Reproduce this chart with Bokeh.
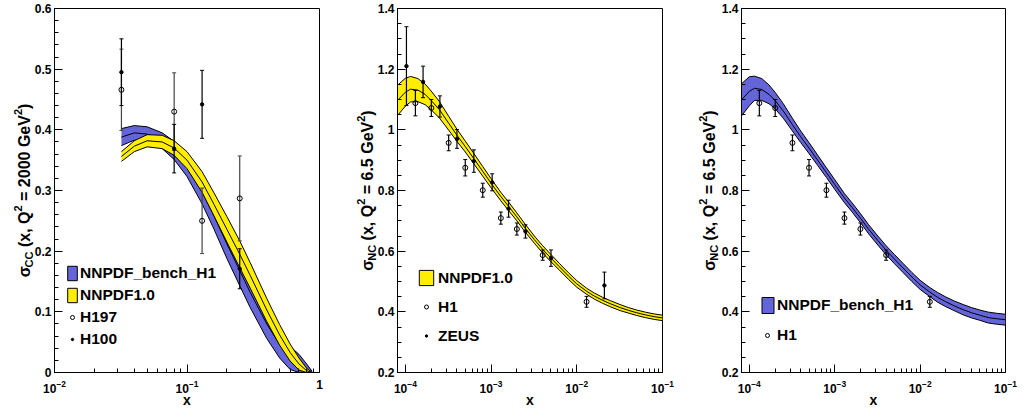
import math
from bokeh.plotting import figure
from bokeh.models import (ColumnDataSource, Range1d, FixedTicker, LogTickFormatter, Legend,
                          LegendItem, CustomJSTickFormatter)
from bokeh.layouts import row
from bokeh.embed import file_html
from bokeh.resources import INLINE
from bokeh.core.properties import value

FONT = "Liberation Sans"
BLUE = "#6a6ae0"
YELLOW = "#ffee00"

# ---------------- Panel 1: charged current, Q2 = 2000 GeV2 ----------------
cc_x = [0.032, 0.04, 0.05, 0.065, 0.08, 0.1, 0.13, 0.16, 0.2, 0.25, 0.3, 0.4, 0.5, 0.6, 0.7, 0.8, 0.88]
cc_bench_c = [0.388, 0.395, 0.393, 0.382, 0.366, 0.340, 0.298, 0.258, 0.212, 0.168, 0.132, 0.080, 0.046, 0.024, 0.014, 0.004, 0.000]
cc_bench_w = [0.014, 0.012, 0.012, 0.013, 0.015, 0.017, 0.020, 0.022, 0.024, 0.025, 0.025, 0.024, 0.022, 0.019, 0.016, 0.010, 0.002]
cc_nnpdf_c = [0.356, 0.373, 0.382, 0.380, 0.370, 0.350, 0.314, 0.277, 0.236, 0.195, 0.160, 0.103, 0.062, 0.033, 0.014, 0.003, 0.000]
cc_nnpdf_w = [0.008, 0.009, 0.010, 0.011, 0.012, 0.014, 0.017, 0.019, 0.021, 0.022, 0.021, 0.019, 0.017, 0.014, 0.010, 0.004, 0.000]

h197_x = [0.032, 0.08, 0.13, 0.25]
h197_y = [0.466, 0.430, 0.250, 0.287]
h197_e = [0.067, 0.064, 0.054, 0.070]
h100_x = [0.032, 0.08, 0.13, 0.25]
h100_y = [0.495, 0.369, 0.442, 0.171]
h100_e = [0.055, 0.040, 0.056, 0.033]

# ---------------- Panels 2 and 3: neutral current, Q2 = 6.5 GeV2 ----------------
nc_x = [8.1e-5, 1e-4, 1.15e-4, 1.4e-4, 1.7e-4, 2e-4, 2.5e-4, 3.2e-4, 4e-4, 5e-4, 6.3e-4, 8e-4,
        1e-3, 1.3e-3, 1.6e-3, 2e-3, 2.5e-3, 3.2e-3, 4e-3, 5e-3, 6.3e-3, 8e-3,
        1e-2, 1.3e-2, 1.6e-2, 2e-2, 2.5e-2, 3.2e-2, 4e-2, 5e-2, 6.3e-2, 8e-2, 0.1]
nc_nnpdf_c = [1.097, 1.124, 1.134, 1.131, 1.117, 1.097, 1.066, 1.022, 0.982, 0.945, 0.905, 0.863,
              0.824, 0.780, 0.748, 0.713, 0.676, 0.638, 0.606, 0.577, 0.548, 0.518,
              0.492, 0.468, 0.452, 0.438, 0.426, 0.414, 0.405, 0.397, 0.390, 0.384, 0.380]
nc_nnpdf_w = [0.050, 0.046, 0.042, 0.038, 0.034, 0.031, 0.027, 0.023, 0.020, 0.018, 0.017, 0.016,
              0.015, 0.014, 0.014, 0.013, 0.013, 0.012, 0.012, 0.012, 0.011, 0.011,
              0.011, 0.010, 0.010, 0.010, 0.010, 0.010, 0.009, 0.009, 0.009, 0.009, 0.009]
nc_bench_c = [1.099, 1.127, 1.137, 1.133, 1.117, 1.097, 1.062, 1.017, 0.977, 0.940, 0.900, 0.859,
              0.820, 0.775, 0.744, 0.709, 0.672, 0.635, 0.603, 0.574, 0.545, 0.515,
              0.489, 0.465, 0.448, 0.433, 0.420, 0.407, 0.397, 0.389, 0.381, 0.377, 0.374]
nc_bench_w = [0.053, 0.048, 0.040, 0.036, 0.031, 0.027, 0.024, 0.021, 0.019, 0.018, 0.017, 0.016,
              0.016, 0.015, 0.015, 0.015, 0.015, 0.015, 0.015, 0.015, 0.015, 0.015,
              0.015, 0.015, 0.016, 0.016, 0.016, 0.017, 0.017, 0.017, 0.018, 0.018, 0.018]

h1_x = [1.31e-4, 2.01e-4, 3.2e-4, 5.0e-4, 8.0e-4, 1.3e-3, 2.0e-3, 4.0e-3, 1.3e-2]
h1_y = [1.088, 1.072, 0.957, 0.875, 0.801, 0.709, 0.673, 0.587, 0.433]
h1_e = [0.042, 0.028, 0.026, 0.027, 0.023, 0.020, 0.020, 0.017, 0.018]
zeus_x = [1.03e-4, 1.61e-4, 2.53e-4, 4.0e-4, 6.3e-4, 1.03e-3, 1.6e-3, 2.52e-3, 5.0e-3, 2.1e-2]
zeus_y = [1.210, 1.158, 1.077, 0.970, 0.897, 0.827, 0.740, 0.665, 0.577, 0.487]
zeus_e = [0.130, 0.052, 0.035, 0.031, 0.037, 0.028, 0.028, 0.022, 0.027, 0.044]

cc_xticks = [0.01, 0.1, 1.0]
nc_xticks = [1e-4, 1e-3, 1e-2, 1e-1]
cc_yticks = [0.0, 0.1, 0.2, 0.3, 0.4, 0.5, 0.6]
nc_yticks = [0.2, 0.4, 0.6, 0.8, 1.0, 1.2, 1.4]

# Arial/Liberation Sans Bold advance widths (em) for axis-title layout
WID = {' ': 0.278, '(': 0.333, ')': 0.333, 'x': 0.556, ',': 0.278, 'Q': 0.778, '=': 0.584,
       '.': 0.278, 'G': 0.778, 'e': 0.556, 'V': 0.667, 'C': 0.722, 'N': 0.722, 'σ': 0.62}


def twidth(t, s):
    return sum(WID.get(ch, 0.556) for ch in t) * s


H = 407
TOP = 8
BOT = 35
FH = H - TOP - BOT


class Panel:
    def __init__(self, width, left, right, xr, yr, yticks, ystep, majors):
        self.xr, self.yr = xr, yr
        self.fw = width - left - right
        p = figure(width=width, height=H, x_axis_type="log", x_range=Range1d(*xr),
                   y_range=Range1d(*yr), output_backend="svg", toolbar_location=None,
                   min_border_left=left, min_border_right=right, min_border_top=TOP,
                   min_border_bottom=BOT)
        p.grid.visible = False
        p.outline_line_color = "black"
        p.outline_line_width = 1
        for ax in (p.xaxis[0], p.yaxis[0]):
            ax.axis_line_color = "black"
            ax.axis_line_width = 1
            ax.major_tick_in = 8
            ax.major_tick_out = 0
            ax.minor_tick_in = 4
            ax.minor_tick_out = 0
            ax.major_tick_line_color = "black"
            ax.minor_tick_line_color = "black"
            ax.major_label_text_font = FONT
            ax.major_label_text_font_style = "bold"
            ax.major_label_text_font_size = "12px"
            ax.major_label_text_color = "black"
        minors = []
        for m in majors[:-1]:
            minors += [m * k for k in range(2, 10)]
        p.xaxis.ticker = FixedTicker(ticks=majors, minor_ticks=minors)
        p.xaxis.formatter = LogTickFormatter(min_exponent=1)
        p.xaxis.major_label_standoff = 7
        ymin = [yticks[0] + ystep * i for i in range(int(round((yticks[-1] - yticks[0]) / ystep)) + 1)]
        p.yaxis.ticker = FixedTicker(ticks=yticks, minor_ticks=ymin)
        p.yaxis.formatter = CustomJSTickFormatter(code="return String(Number(tick.toFixed(2)));")
        p.yaxis.major_label_standoff = 3
        self.p = p

    # pixel offset (from frame left / bottom) -> data coordinate, for titles only
    def xd(self, px):
        a, b = math.log10(self.xr[0]), math.log10(self.xr[1])
        return 10 ** (a + px / self.fw * (b - a))

    def yd(self, py):
        return self.yr[0] + py / FH * (self.yr[1] - self.yr[0])

    def band(self, xs, c, w, color, hatch=False):
        lo = [max(a - b, 0.0) for a, b in zip(c, w)]
        hi = [a + b for a, b in zip(c, w)]
        src = ColumnDataSource(dict(x=xs, lo=lo, hi=hi, c=c))
        kw = dict(fill_color=color)
        if hatch:
            kw.update(hatch_pattern="right_diagonal_line", hatch_color="#3a3aa8", hatch_alpha=0.35,
                      hatch_scale=3, hatch_weight=0.6)
        self.p.varea(x="x", y1="lo", y2="hi", source=src, **kw)
        for col in ("lo", "hi", "c"):
            self.p.line(x="x", y=col, source=src, line_color="black", line_width=1)

    def points(self, xs, ys, es, filled, color="black"):
        p = self.p
        lo = [a - b for a, b in zip(ys, es)]
        hi = [a + b for a, b in zip(ys, es)]
        src = ColumnDataSource(dict(x=xs, y=ys, lo=lo, hi=hi))
        p.segment(x0="x", y0="lo", x1="x", y1="hi", source=src, line_color=color, line_width=1.2)
        p.scatter(x="x", y="lo", source=src, marker="dash", size=4, line_color=color, line_width=1)
        p.scatter(x="x", y="hi", source=src, marker="dash", size=4, line_color=color, line_width=1)
        if filled:
            return p.scatter(x="x", y="y", source=src, marker="circle", size=3.4,
                             fill_color="black", line_color="black")
        return p.scatter(x="x", y="y", source=src, marker="circle", size=5,
                         fill_color=None, line_color="black", line_width=1)

    def legend_box(self, color, hatch=False):
        # off-range proxy renderer used only for the legend swatch
        kw = dict(fill_color=color, line_color="black", line_width=1)
        if hatch:
            kw.update(hatch_pattern="right_diagonal_line", hatch_color="#3a3aa8", hatch_alpha=0.35,
                      hatch_scale=3, hatch_weight=0.6)
        y0 = self.yr[0]
        src = ColumnDataSource(dict(l=[self.xr[0]], r=[self.xr[0] * 1.1], t=[y0 - 1.0], b=[y0 - 2.0]))
        return self.p.quad(left="l", right="r", top="t", bottom="b", source=src, **kw)

    def legend_item(self, label, r, x, y, gw, gh, standoff):
        leg = Legend(items=[LegendItem(label=label, renderers=[r])], location=(x, y),
                     glyph_width=gw, glyph_height=gh, label_height=gh, spacing=0, padding=0,
                     margin=0, label_standoff=standoff, label_text_font=FONT,
                     label_text_font_style="bold", label_text_font_size="15.5px",
                     label_text_color="black", border_line_color=None, background_fill_alpha=0)
        self.p.add_layout(leg)

    def ytitle(self, pieces, x0):
        total = sum(twidth(t, s) for t, s, _ in pieces)
        y = FH / 2 - total / 2
        xs, ys, txt, sizes = [], [], [], []
        for t, s, shift in pieces:
            lead = t[:len(t) - len(t.lstrip())]
            xs.append(self.xd(x0 + shift))
            ys.append(self.yd(y + twidth(lead, s)))
            txt.append(t.strip())
            sizes.append(f"{s}px")
            y += twidth(t, s)
        src = ColumnDataSource(dict(x=xs, y=ys, text=txt, size=sizes))
        self.p.text(x="x", y="y", text="text", source=src, angle=math.pi / 2,
                    text_font=value(FONT), text_font_style="bold", text_font_size="size",
                    text_align="left", text_baseline="alphabetic", text_color="black",
                    level="overlay")

    def xtitle(self):
        src = ColumnDataSource(dict(x=[self.xd(self.fw / 2)], y=[self.yd(-27)], text=["x"]))
        self.p.text(x="x", y="y", text="text", source=src, text_font=value(FONT),
                    text_font_style="bold", text_font_size=value("14px"), text_align="center",
                    text_baseline="alphabetic", text_color="black", level="overlay")


SUB = 4
SUP = -7

# ---- Panel 1
P1 = Panel(340, 54, 21, (0.01, 1.0), (0.0, 0.6), cc_yticks, 0.02, cc_xticks)
P1.band(cc_x, cc_bench_c, cc_bench_w, BLUE, hatch=True)
P1.band(cc_x, cc_nnpdf_c, cc_nnpdf_w, YELLOW)
r197 = P1.points(h197_x, h197_y, h197_e, False, color="#444444")
r100 = P1.points(h100_x, h100_y, h100_e, True)
P1.legend_item("NNPDF_bench_H1", P1.legend_box(BLUE, hatch=True), 12, 90, 12, 18, 2)
P1.legend_item("NNPDF1.0", P1.legend_box(YELLOW), 12, 68, 12, 18, 2)
P1.legend_item("H197", r197, 13, 46, 10, 18, 3)
P1.legend_item("H100", r100, 15, 24, 6, 18, 5)
P1.ytitle([("σ", 16, 0), ("CC", 11, SUB), (" (x, Q", 16, 0), ("2", 11, SUP),
           (" = 2000 GeV", 16, 0), ("2", 11, SUP), (")", 16, 0)], -30)
P1.xtitle()

# ---- Panel 2
P2 = Panel(340, 57, 18, (8.1e-5, 0.1), (0.2, 1.4), nc_yticks, 0.05, nc_xticks)
P2.band(nc_x, nc_nnpdf_c, nc_nnpdf_w, YELLOW)
rh1 = P2.points(h1_x, h1_y, h1_e, False)
rz = P2.points(zeus_x, zeus_y, zeus_e, True)
P2.legend_item("NNPDF1.0", P2.legend_box(YELLOW), 20, 85, 18, 19, 3)
P2.legend_item("H1", rh1, 24, 56, 10, 19, 7)
P2.legend_item("ZEUS", rz, 26, 27, 6, 19, 9)
P2.ytitle([("σ", 16, 0), ("NC", 11, SUB), (" (x, Q", 16, 0), ("2", 11, SUP),
           (" = 6.5 GeV", 16, 0), ("2", 11, SUP), (")", 16, 0)], -30)
P2.xtitle()

# ---- Panel 3
P3 = Panel(341, 61, 16, (8.1e-5, 0.1), (0.2, 1.4), nc_yticks, 0.05, nc_xticks)
P3.band(nc_x, nc_bench_c, nc_bench_w, BLUE, hatch=True)
rh1b = P3.points(h1_x, h1_y, h1_e, False)
P3.legend_item("NNPDF_bench_H1", P3.legend_box(BLUE, hatch=True), 19, 57, 15, 20, 2)
P3.legend_item("H1", rh1b, 21, 27, 10, 20, 5)
P3.ytitle([("σ", 16, 0), ("NC", 11, SUB), (" (x, Q", 16, 0), ("2", 11, SUP),
           (" = 6.5 GeV", 16, 0), ("2", 11, SUP), (")", 16, 0)], -32)
P3.xtitle()

layout = row(P1.p, P2.p, P3.p)
open("out.html", "w").write(file_html(layout, INLINE))
